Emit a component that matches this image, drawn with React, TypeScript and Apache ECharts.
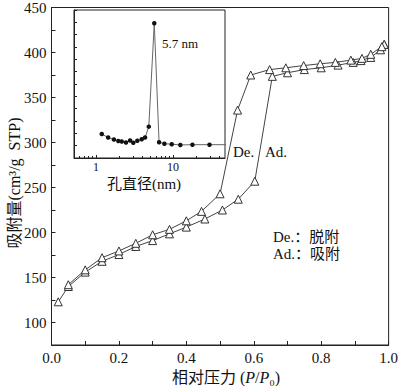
import React, { useEffect, useRef } from "react";
import * as echarts from "echarts";

const FONT = "'Liberation Serif', 'Times New Roman', 'Noto Sans CJK SC', serif";

// Adsorption branch (P/P0, cm3/g STP)
const adX = [0.02, 0.05, 0.1, 0.15, 0.2, 0.25, 0.3, 0.35, 0.4, 0.455, 0.507, 0.554, 0.603, 0.655, 0.7, 0.75, 0.8, 0.85, 0.895, 0.918, 0.947, 0.976, 0.987];
const adY = [123, 140, 156, 168, 175.5, 184.5, 191, 198.5, 206, 215, 225, 237, 257, 373.5, 377.5, 381, 383, 386, 389, 391, 394.5, 403, 409];
// Desorption branch
const deX = [0.987, 0.98, 0.947, 0.921, 0.888, 0.842, 0.797, 0.748, 0.695, 0.647, 0.591, 0.552, 0.5, 0.445, 0.4, 0.35, 0.3, 0.25, 0.2, 0.15, 0.1, 0.05];
const deY = [409, 406.5, 398, 393.5, 391.5, 389, 387.5, 385.5, 383, 381, 375, 336, 243, 223.5, 213, 203.5, 197.5, 188, 179.5, 172, 158.5, 142];

// Inset: pore size distribution
const poreD = [1.19, 1.44, 1.71, 1.95, 2.16, 2.45, 2.77, 3.05, 3.44, 3.92, 4.33, 4.84, 5.7, 6.58, 7.71, 9.6, 12.4, 17.8, 29.6, 60];
const poreV = [0.97, 0.83, 0.75, 0.69, 0.67, 0.63, 0.71, 0.62, 0.7, 0.76, 0.83, 1.27, 5.46, 0.64, 0.58, 0.56, 0.53, 0.54, 0.54, 0.54];

const mainXTicks = [0, 0.2, 0.4, 0.6, 0.8, 1.0];
const insetXLabels = [1, 10];
const insetMinorTicks = [0.6, 0.7, 0.8, 0.9, 2, 3, 4, 5, 6, 7, 8, 9, 20, 30, 40];

const AXIS = "#222";

export default function App() {
  const ref = useRef<HTMLDivElement>(null);
  useEffect(() => {
    if (!ref.current) return;
    const chart = echarts.init(ref.current, null, { renderer: "svg" });
    const tri = {
      type: "line",
      xAxisIndex: 0,
      yAxisIndex: 0,
      symbol: "triangle",
      symbolSize: 8,
      itemStyle: { color: "#fff", borderColor: "#333", borderWidth: 1 },
      lineStyle: { color: "#444", width: 1 },
      z: 3,
    };
    const label = (size: number, margin: number) => ({
      color: "#111",
      fontFamily: FONT,
      fontSize: size,
      margin,
    });
    chart.setOption({
      animation: false,
      backgroundColor: "#fff",
      textStyle: { fontFamily: FONT },
      grid: [
        { left: 51.5, top: 6, width: 340.5, height: 339, show: true, borderColor: AXIS, borderWidth: 1, backgroundColor: "transparent" },
        { left: 74, top: 10, width: 151, height: 148, show: true, borderColor: AXIS, borderWidth: 1, backgroundColor: "#fff" },
      ],
      xAxis: [
        {
          gridIndex: 0,
          type: "value",
          min: 0,
          max: 1,
          interval: 0.1,
          axisLine: { lineStyle: { color: AXIS } },
          axisTick: { inside: true, length: 4, lineStyle: { color: AXIS } },
          splitLine: { show: false },
          axisLabel: {
            ...label(15, 5),
            formatter: (v: number) =>
              mainXTicks.some((t) => Math.abs(t - v) < 1e-6) ? v.toFixed(1) : "",
          },
        },
        {
          gridIndex: 1,
          type: "log",
          logBase: 10,
          min: 0.52,
          max: 47,
          position: "bottom",
          axisLine: { lineStyle: { color: AXIS } },
          axisTick: { inside: true, length: 3, customValues: insetXLabels, lineStyle: { color: AXIS } },
          splitLine: { show: false },
          axisLabel: {
            ...label(12, 3),
            customValues: insetXLabels,
            formatter: (v: number) => String(Math.round(v)),
          },
        },
        {
          gridIndex: 1,
          type: "log",
          logBase: 10,
          min: 0.52,
          max: 47,
          position: "bottom",
          axisLine: { show: false },
          axisTick: { inside: true, length: 2, customValues: insetMinorTicks, lineStyle: { color: AXIS } },
          splitLine: { show: false },
          axisLabel: { show: false },
        },
      ],
      yAxis: [
        {
          gridIndex: 0,
          type: "value",
          min: 75,
          max: 450,
          interval: 25,
          axisLine: { lineStyle: { color: AXIS } },
          axisTick: { inside: true, length: 4, lineStyle: { color: AXIS } },
          splitLine: { show: false },
          axisLabel: {
            ...label(15, 5),
            formatter: (v: number) => (v % 50 === 0 ? String(v) : ""),
          },
        },
        {
          gridIndex: 1,
          type: "value",
          min: 0,
          max: 6,
          interval: 0.5,
          axisLine: { lineStyle: { color: AXIS } },
          axisTick: { inside: true, length: 3, lineStyle: { color: AXIS } },
          splitLine: { show: false },
          axisLabel: { show: false },
        },
      ],
      series: [
        { ...tri, name: "Ad.", data: adX.map((x, i) => [x, adY[i]]) },
        { ...tri, name: "De.", data: deX.map((x, i) => [x, deY[i]]) },
        {
          type: "line",
          name: "PSD",
          xAxisIndex: 1,
          yAxisIndex: 1,
          clip: true,
          data: poreD.map((x, i) => [x, poreV[i]]),
          symbol: "circle",
          symbolSize: 4.5,
          itemStyle: { color: "#111" },
          lineStyle: { color: "#666", width: 1 },
          z: 4,
        },
      ],
      graphic: [
        {
          type: "text",
          x: 14,
          y: 183,
          rotation: Math.PI / 2,
          style: {
            text: "吸附量(cm³/g  STP)",
            fontFamily: FONT,
            fontSize: 16,
            fill: "#111",
            align: "center",
            verticalAlign: "middle",
          },
        },
        {
          type: "text",
          x: 226,
          y: 377,
          style: {
            text: "{c|相对压力 (}{i|P}{c|/}{i|P}{c|₀)}",
            align: "center",
            verticalAlign: "middle",
            fill: "#111",
            rich: {
              c: { fontFamily: FONT, fontSize: 16, fill: "#111" },
              i: { fontFamily: FONT, fontSize: 16, fontStyle: "italic", fill: "#111" },
            },
          },
        },
        {
          type: "text",
          x: 144,
          y: 184,
          style: { text: "孔直径(nm)", fontFamily: FONT, fontSize: 15, fill: "#111", align: "center", verticalAlign: "middle" },
        },
        {
          type: "text",
          x: 162,
          y: 43,
          style: { text: "5.7 nm", fontFamily: FONT, fontSize: 13, fill: "#111", align: "left", verticalAlign: "middle" },
        },
        {
          type: "text",
          x: 233,
          y: 152,
          style: { text: "De.", fontFamily: FONT, fontSize: 15, fill: "#111", align: "left", verticalAlign: "middle" },
        },
        {
          type: "text",
          x: 265,
          y: 152,
          style: { text: "Ad.", fontFamily: FONT, fontSize: 15, fill: "#111", align: "left", verticalAlign: "middle" },
        },
        {
          type: "text",
          x: 273,
          y: 237,
          style: { text: "De.：脱附", fontFamily: FONT, fontSize: 15, fill: "#111", align: "left", verticalAlign: "middle" },
        },
        {
          type: "text",
          x: 273,
          y: 254,
          style: { text: "Ad.：吸附", fontFamily: FONT, fontSize: 15, fill: "#111", align: "left", verticalAlign: "middle" },
        },
      ],
    });
    return () => chart.dispose();
  }, []);
  return (
    <div
      ref={ref}
      style={{ position: "fixed", left: 0, top: 0, width: 401, height: 386, background: "#fff" }}
    />
  );
}
